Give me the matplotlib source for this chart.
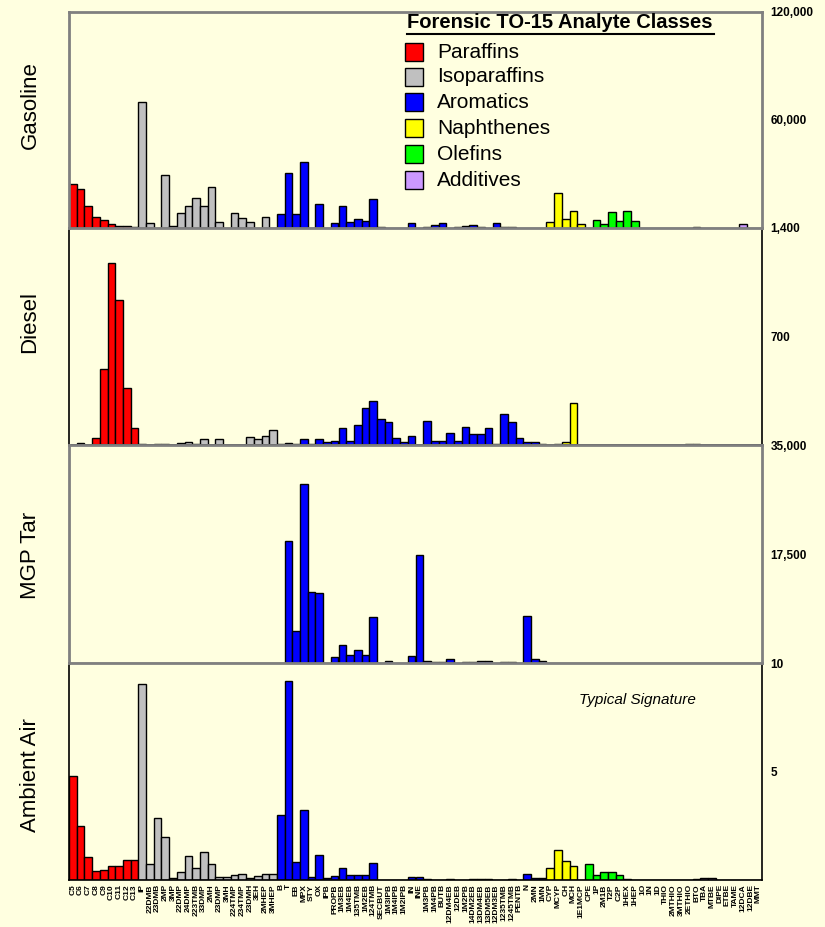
import matplotlib
matplotlib.use('Agg')
import matplotlib.pyplot as plt
from matplotlib.patches import Rectangle
from matplotlib.lines import Line2D
import numpy as np

plt.rcParams['font.family'] = ['Liberation Sans', 'DejaVu Sans']

# ---------------- data ----------------
paraffins = ['C5', 'C6', 'C7', 'C8', 'C9', 'C10', 'C11', 'C12', 'C13']
isoparaffins = ['iP', '22DMB', '23DMB', '2MP', '3MP', '22DMP', '24DMP', '223TMB', '33DMP',
                '2MH', '23DMP', '3MH', '224TMP', '234TMP', '23DMH', '3EH', '2MHEP', '3MHEP']
aromatics = ['B', 'T', 'EB', 'MPX', 'STY', 'OX', 'IPB', 'PROPB', '1M3EB', '1M4EB', '135TMB',
             '1M2EB', '124TMB', 'SECBUT', '1M3IPB', '1M4IPB', '1M2IPB', 'IN', 'INE', '1M3PB',
             '1M4PB', 'BUTB', '12DM4EB', '12DEB', '1M2PB', '14DM2EB', '13DM4EB', '13DM5EB',
             '12DM3EB', '1235TMB', '1245TMB', 'PENTB', 'N', '2MN', '1MN']
naphthenes = ['CYP', 'MCYP', 'CH', 'MCH', '1E1MCP']
olefins = ['CPE', '1P', '2M1B', 'T2P', 'C2P', '1HEX', '1HEP', '1O', '1N', '1D']
additives = ['THIO', '2MTHIO', '3MTHIO', '2ETHIO', 'BTO', 'TBA', 'MTBE', 'DIPE', 'ETBE',
             'TAME', '12DCA', '12DBE', 'MMT']

class_names = ['Paraffins', 'Isoparaffins', 'Aromatics', 'Naphthenes', 'Olefins', 'Additives']
class_colors = ['#FF0000', '#C0C0C0', '#0000FF', '#FFFF00', '#00FF00', '#CC99FF']
groups = [paraffins, isoparaffins, aromatics, naphthenes, olefins, additives]

gasoline = [24300, 21700, 12400, 6100, 4400, 2000, 1100, 900, 300,
            70200, 2900, 0, 29600, 1100, 8100, 12200, 16700, 12200, 22600, 3500, 0, 8100, 5400,
            3500, 0, 6300, 0,
            8000, 30400, 8000, 36400, 0, 13100, 0, 2700, 12200, 3500, 4800, 4000, 15900, 300,
            0, 0, 0, 2600, 0, 300, 1700, 2600, 0, 300, 1200, 1700, 300, 0, 2600, 500, 500,
            0, 0, 0, 0,
            3500, 19300, 4800, 9400, 2000,
            0, 4400, 2200, 8700, 4100, 9400, 4100, 0, 0, 0,
            0, 0, 0, 0, 300, 0, 0, 0, 0, 0, 2000, 0, 0]
diesel = [0, 10, 0, 45, 490, 1175, 935, 370, 110,
          5, 0, 8, 8, 0, 10, 17, 5, 39, 0, 39, 0, 0, 0, 50, 37, 58, 97,
          5, 12, 5, 39, 8, 37, 17, 28, 108, 28, 129, 237, 286, 168, 146, 47, 17, 60, 0, 157,
          28, 28, 79, 28, 118, 69, 69, 108, 5, 198, 146, 47, 17, 17, 8,
          0, 5, 17, 269, 0,
          0, 0, 0, 0, 0, 0, 0, 0, 0, 0,
          0, 0, 0, 8, 8, 0, 0, 0, 0, 0, 0, 0, 0]
mgp_tar = [0, 0, 0, 80, 80, 80, 80, 0, 0,
           0, 0, 0, 0, 0, 0, 0, 0, 0, 0, 0, 0, 0, 0, 0, 0, 0, 0,
           80, 19600, 5100, 28700, 11400, 11200, 50, 900, 2900, 1300, 2100, 1300, 7400, 80,
           320, 0, 0, 1100, 17300, 320, 100, 100, 600, 0, 100, 100, 320, 320, 0, 100, 100, 0,
           7500, 640, 320,
           0, 0, 0, 0, 0,
           0, 0, 0, 0, 0, 80, 80, 80, 80, 80,
           0, 0, 0, 0, 0, 0, 0, 0, 0, 0, 0, 0, 0]
ambient_air = [4.79, 2.49, 1.06, 0.41, 0.46, 0.65, 0.65, 0.92, 0.92,
               9.03, 0.74, 2.86, 1.98, 0.1, 0.37, 1.1, 0.55, 1.29, 0.74, 0.14, 0.14, 0.23, 0.28,
               0.1, 0.18, 0.28, 0.28,
               3.0, 9.17, 0.83, 3.23, 0.14, 1.15, 0.1, 0.18, 0.55, 0.23, 0.23, 0.23, 0.78, 0,
               0, 0, 0, 0.12, 0.12, 0.05, 0, 0, 0.05, 0, 0, 0.05, 0.05, 0.05, 0, 0, 0.05, 0,
               0.26, 0.08, 0.08,
               0.54, 1.38, 0.88, 0.65, 0,
               0.74, 0.23, 0.38, 0.38, 0.23, 0.05, 0, 0, 0, 0,
               0, 0, 0, 0, 0.05, 0.1, 0.1, 0, 0, 0, 0, 0, 0]

panel_names = ['Gasoline', 'Diesel', 'MGP Tar', 'Ambient Air']
panel_data = [gasoline, diesel, mgp_tar, ambient_air]
panel_ymax = [120000, 1400, 35000, 10]

# ---------------- layout ----------------
labels = [lab for g in groups for lab in g]
classes = [ci for ci, g in enumerate(groups) for _ in g]
colors = [class_colors[c] for c in classes]
n = len(labels)

BG = '#FFFFE0'
W, H = 825, 927
fig = plt.figure(figsize=(W / 100, H / 100), dpi=100, facecolor=BG)

tops = [12, 228, 445, 663]
bottoms = [228, 445, 663, 880]
left_px, right_px = 69, 762
label_y = [105, 322, 555, 775]
frame_colors = ['#808080', 'black', '#808080', 'black']
frame_lw = [2.0, 1.2, 2.0, 1.2]

x = np.arange(n)
for i in range(4):
    ax = fig.add_axes([left_px / W, 1 - bottoms[i] / H, (right_px - left_px) / W,
                       (bottoms[i] - tops[i]) / H])
    ax.set_facecolor(BG)
    ax.bar(x, panel_data[i], width=1.0, color=colors, edgecolor='black', linewidth=1.0)
    ax.set_xlim(-0.5, n - 0.5)
    ymax = panel_ymax[i]
    ax.set_ylim(0, ymax)
    ax.yaxis.tick_right()
    ax.set_yticks([ymax / 2, ymax])
    ax.set_yticklabels([f'{ymax / 2:,.0f}', f'{ymax:,.0f}'], fontsize=8.5, fontweight='bold')
    ax.tick_params(axis='y', length=0, pad=6)
    for s in ax.spines.values():
        s.set_color(frame_colors[i])
        s.set_linewidth(frame_lw[i])
    ax.set_zorder(4 - i if i % 2 == 0 else 1)
    if i == 3:
        ax.set_xticks(x)
        ax.set_xticklabels(labels, rotation=90, fontsize=6, fontweight='bold')
        ax.tick_params(axis='x', length=0, pad=3)
        ax.text(637 / W, 1 - 700 / H, 'Typical Signature', transform=fig.transFigure,
                ha='center', va='center', fontsize=11, style='italic')
    else:
        ax.set_xticks([])
    fig.text(30 / W, 1 - label_y[i] / H, panel_names[i], rotation=90, ha='center',
             va='center', fontsize=16)

# legend
fig.text(407 / W, 1 - 22 / H, 'Forensic TO-15 Analyte Classes', fontsize=14.5,
         fontweight='bold', va='center', ha='left', zorder=10)
fig.add_artist(Line2D([407 / W, 714 / W], [1 - 34 / H, 1 - 34 / H], transform=fig.transFigure,
                      color='black', lw=1.5, zorder=10))
leg_y = [52, 77, 102, 128, 154, 180]
for name, col, yy in zip(class_names, class_colors, leg_y):
    fig.add_artist(Rectangle((405 / W, 1 - (yy + 9) / H), 18 / W, 18 / H,
                             transform=fig.transFigure, facecolor=col, edgecolor='black',
                             lw=1.0, zorder=10))
    fig.text(437 / W, 1 - yy / H, name, fontsize=15, va='center', ha='left', zorder=10)

fig.savefig('out.png', dpi=100, facecolor=BG)
